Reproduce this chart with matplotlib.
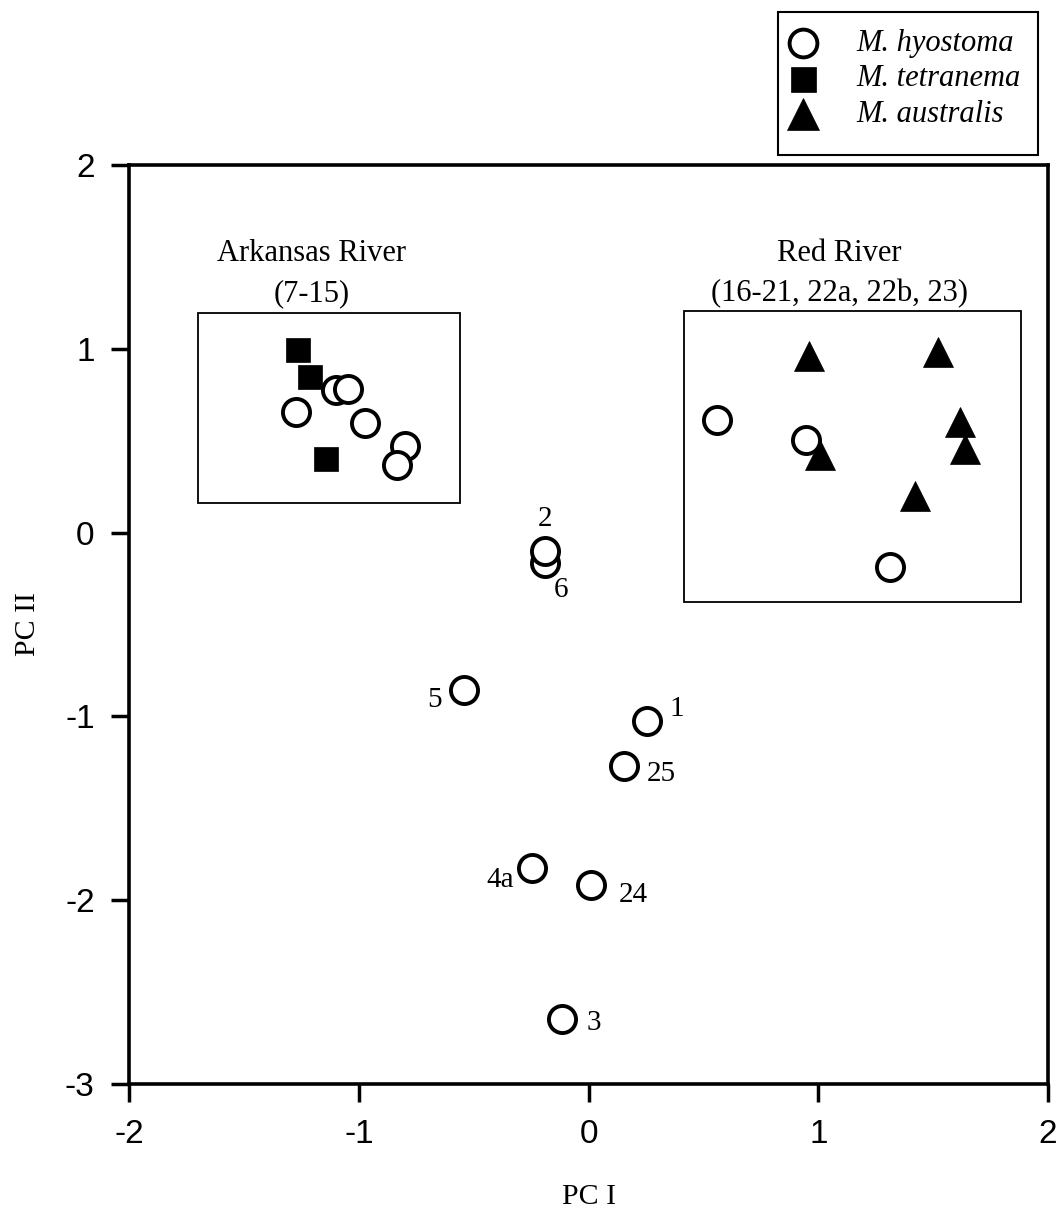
import matplotlib
matplotlib.use("Agg")
import matplotlib.pyplot as plt
from matplotlib.patches import Rectangle
from matplotlib.lines import Line2D

# ---- data ----
ark_hyo_x = [-1.275, -1.102, -1.050, -0.973, -0.801, -0.834]
ark_hyo_y = [0.658, 0.778, 0.782, 0.597, 0.470, 0.370]
ark_tet_x = [-1.265, -1.214, -1.146]
ark_tet_y = [0.996, 0.847, 0.401]
red_hyo_x = [0.557, 0.946, 1.312]
red_hyo_y = [0.615, 0.506, -0.187]
red_aus_x = [0.960, 1.520, 1.617, 1.638, 1.007, 1.419]
red_aus_y = [0.959, 0.985, 0.600, 0.455, 0.424, 0.197]
site_labels = ['6', '2', '5', '1', '25', '4a', '24', '3']
site_x = [-0.191, -0.191, -0.544, 0.252, 0.155, -0.246, 0.010, -0.115]
site_y = [-0.165, -0.102, -0.854, -1.027, -1.271, -1.824, -1.915, -2.646]
label_offsets = [(16, -27), (0, 32), (-29, -10), (30, 12), (37, -8), (-32, -12), (42, -10), (32, -4)]

ark_box = (-1.702, -0.561, 0.163, 1.197)
red_box = (0.415, 1.881, -0.379, 1.204)
ark_title = "Arkansas River\n(7-15)"
red_title = "Red River\n(16-21, 22a, 22b, 23)"
ark_title_xy = (-1.206, 1.408)
red_title_xy = (1.090, 1.408)
legend_names = ["M. hyostoma", "M. tetranema", "M. australis"]
xticks = [-2, -1, 0, 1, 2]
yticks = [-3, -2, -1, 0, 1, 2]

SERIF = "Liberation Serif"
SANS = "Liberation Sans"

W, H = 1062, 1216
fig = plt.figure(figsize=(W / 100, H / 100), dpi=100)
ax = fig.add_axes([0.1219, 0.1086, 0.8649, 0.7557])

circ = dict(marker='o', ms=19.5, mfc='white', mec='black', mew=2.8, ls='none')
sq = dict(marker='s', ms=17, mfc='black', mec='black', mew=0.5, ls='none')
tri = dict(marker='^', ms=22, mfc='black', mec='black', mew=0.5, ls='none')

ax.plot(ark_hyo_x, ark_hyo_y, zorder=3, **circ)
ax.plot(ark_tet_x, ark_tet_y, zorder=4, **sq)
ax.plot(red_hyo_x, red_hyo_y, zorder=3, **circ)
ax.plot(red_aus_x, red_aus_y, zorder=4, **tri)
for xi, yi in zip(site_x, site_y):
    ax.plot([xi], [yi], zorder=3, **circ)

for lab, xi, yi, (dx, dy) in zip(site_labels, site_x, site_y, label_offsets):
    ax.annotate(lab, (xi, yi), xytext=(dx, dy), textcoords='offset pixels',
                ha='center', va='center', fontsize=21, family=SERIF)

for (x0, x1, y0, y1) in (ark_box, red_box):
    ax.add_patch(Rectangle((x0, y0), x1 - x0, y1 - y0, fill=False,
                           ec='black', lw=1.3, zorder=2))

for txt, (tx, ty) in ((ark_title, ark_title_xy), (red_title, red_title_xy)):
    ax.text(tx, ty, txt, ha='center', va='center', fontsize=22,
            family=SERIF, linespacing=1.5)

ax.set_xlim(-2, 2)
ax.set_ylim(-3, 2)
ax.set_xticks(xticks)
ax.set_yticks(yticks)
ax.set_xticklabels([str(t) for t in xticks], family=SANS, fontsize=24)
ax.set_yticklabels([str(t) for t in yticks], family=SANS, fontsize=24)
ax.tick_params(direction='out', length=13, width=2.5, pad=12)
ax.tick_params(axis='x', pad=12)
for s in ax.spines.values():
    s.set_linewidth(2.6)

ax.set_xlabel("PC I", family=SERIF, fontsize=21.5)
ax.set_ylabel("PC II", family=SERIF, fontsize=21.5)
ax.xaxis.set_label_coords(0.5, -0.123)
ax.xaxis.label.set_va('center')
ax.yaxis.set_label_coords(-0.111, 0.5)
ax.yaxis.label.set_va('center')

# ---- legend box (figure coordinates from pixel layout) ----
def fx(px):
    return px / W

def fy(py):
    return 1 - py / H

fig.add_artist(Rectangle((fx(778), fy(155)), fx(1038) - fx(778), (155 - 12) / H,
                         transform=fig.transFigure, fill=False, ec='black', lw=1.5))
leg_styles = [{**circ, 'ms': 20}, {**sq, 'ms': 18}, {**tri, 'ms': 23}]
leg_rows = [43, 79, 114]
for name, sty, ry in zip(legend_names, leg_styles, leg_rows):
    fig.add_artist(Line2D([fx(803)], [fy(ry)], transform=fig.transFigure, **sty))
    fig.text(fx(856), fy(ry), name, ha='left', va='center', family=SERIF,
             style='italic', fontsize=22)

fig.savefig("out.png", dpi=100)
